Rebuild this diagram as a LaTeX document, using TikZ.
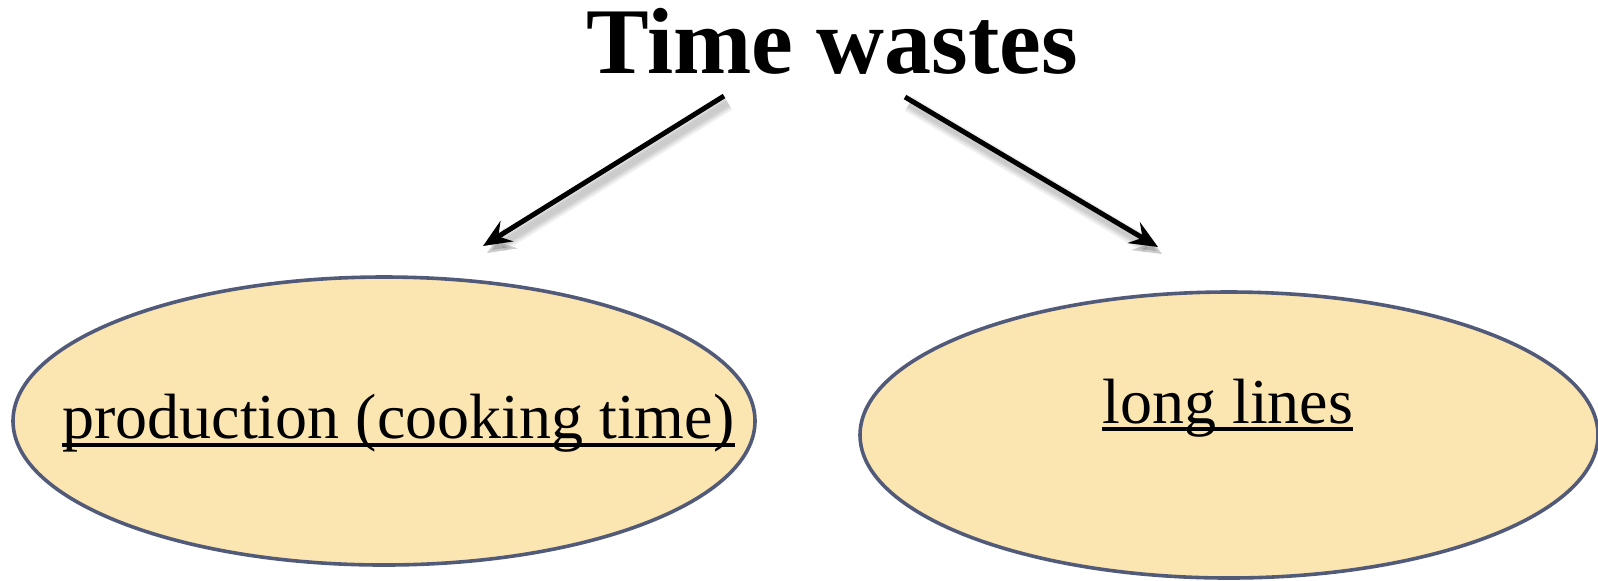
\documentclass[tikz,border=0pt]{standalone}
\usepackage{fontspec}
\setmainfont{Liberation Serif}
\usetikzlibrary{shapes.geometric,arrows.meta,calc}
\definecolor{ellfill}{HTML}{FBE6B1}
\definecolor{elldraw}{HTML}{525A7A}
\tikzset{
  bubble/.style={ellipse, draw=elldraw, line width=1.8pt, fill=ellfill, inner sep=0pt},
  label/.style={inner sep=0pt, font=\fontsize{32}{36}\selectfont},
  ul/.style={line width=2pt},
  arr/.style={line width=2.5pt, -{Stealth[length=14pt,width=12pt,inset=5pt]}},
  arrshadow/.style={line width=#1, -{Stealth[length=14pt,width=12pt,inset=5pt]}, gray, opacity=0.12}
}
\begin{document}
\begin{tikzpicture}[x=0.5pt,y=-0.5pt]
\useasboundingbox (0,0) rectangle (1598,580);
% ellipses
\node[bubble, minimum width=371pt, minimum height=144pt] (left) at (384,421) {};
\node[bubble, minimum width=369pt, minimum height=143pt] (right) at (1229,435) {};
% title
\node[inner sep=0pt, anchor=base, font=\bfseries\fontsize{47}{52}\selectfont] (title) at (832,73) {Time wastes};
% labels
\node[label, anchor=base west] (lt) at (62,438) {production (cooking time)};
\draw[ul] ($(lt.base west)+(0,7)$) coordinate (lu1) -- ($(lt.base east)+(0,7)$) coordinate (lu2);
\node[label, anchor=base west] (rt) at (1102,423) {long lines};
\draw[ul] ($(rt.base west)+(0,6)$) coordinate (ru1) -- ($(rt.base east)+(0,6)$) coordinate (ru2);
% arrows
\coordinate (a1s) at (724,96);
\coordinate (a1e) at (483,246);
\coordinate (a2s) at (905,97);
\coordinate (a2e) at (1158,247);
\foreach \w in {8pt,6pt,4.5pt,3pt}{
  \draw[arrshadow=\w] ($(a1s)+(4,7)$) -- ($(a1e)+(4,7)$);
  \draw[arrshadow=\w] ($(a2s)+(4,7)$) -- ($(a2e)+(4,7)$);
}
\draw[arr] (a1s) -- (a1e);
\draw[arr] (a2s) -- (a2e);
\end{tikzpicture}
\end{document}
